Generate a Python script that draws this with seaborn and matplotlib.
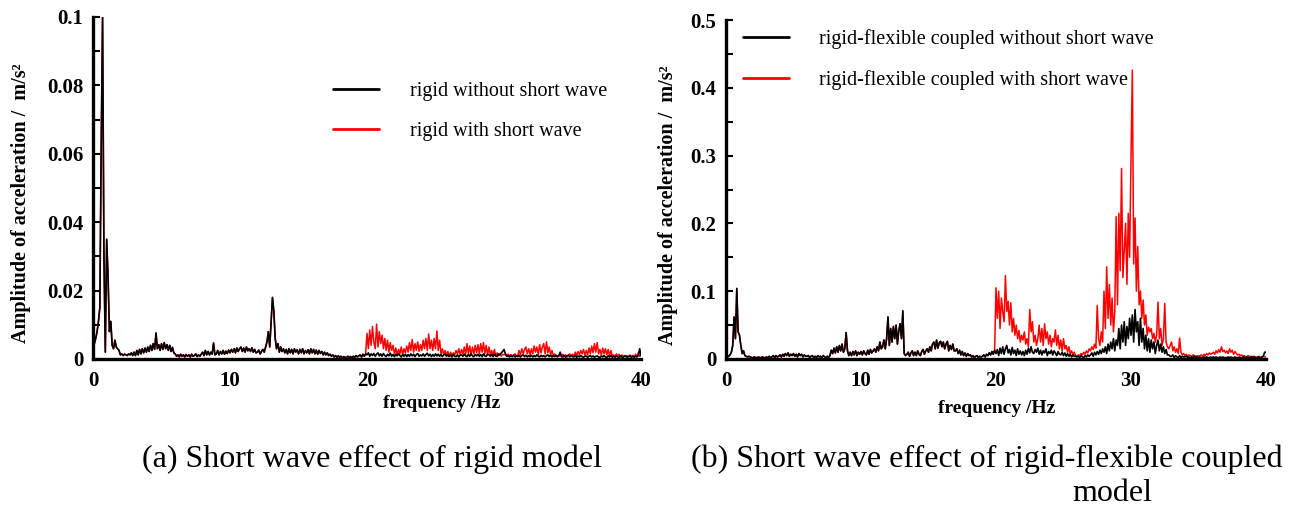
import numpy as np
import pandas as pd
import seaborn as sns
import matplotlib.pyplot as plt
from matplotlib.lines import Line2D
from matplotlib.ticker import MultipleLocator

# frequency grid of the spectra (Hz), 0.1 Hz step
freq = np.round(np.arange(0, 40.05, 0.1), 1)

# (a) rigid model, amplitudes in 1e-4 m/s^2
# 0 - 19.9 Hz: both curves practically coincide
a_base = [
    30, 45, 60, 80, 110, 150, 620, 1000, 300, 20,
    350, 240, 80, 110, 40, 30, 55, 35, 30, 25,
    12, 15, 10, 14, 12, 10, 15, 12, 18, 10,
    20, 10, 25, 12, 28, 15, 30, 18, 32, 20,
    35, 22, 40, 25, 45, 28, 76, 30, 42, 25,
    45, 28, 48, 30, 42, 25, 40, 22, 34, 18,
    15, 8, 12, 6, 14, 8, 12, 6, 13, 8,
    12, 6, 14, 8, 10, 15, 7, 12, 8, 14,
    20, 10, 25, 12, 22, 12, 20, 14, 47, 12,
    15, 25, 12, 22, 15, 25, 14, 23, 16, 26,
    18, 28, 20, 30, 18, 32, 22, 30, 35, 22,
    32, 20, 35, 24, 30, 22, 33, 20, 28, 18,
    20, 26, 15, 22, 28, 20, 35, 50, 80, 35,
    110, 180, 140, 60, 30, 45, 20, 35, 22, 30,
    18, 28, 15, 30, 18, 28, 15, 30, 20, 27,
    15, 28, 18, 30, 15, 25, 18, 27, 15, 30,
    18, 28, 15, 26, 14, 25, 16, 22, 12, 20,
    12, 18, 10, 14, 8, 12, 6, 10, 5, 9,
    5, 8, 4, 7, 5, 4, 8, 5, 7, 4,
    8, 5, 10, 6, 9, 12, 6, 14, 8, 15,
]
# 20 - 40 Hz
a_black_hi = [
    12, 18, 8, 15, 10, 16, 8, 14, 18, 9,
    15, 8, 16, 10, 7, 14, 9, 17, 8, 13,
    7, 14, 9, 15, 10, 6, 13, 8, 14, 7,
    13, 8, 15, 9, 14, 7, 13, 16, 8, 12,
    9, 15, 8, 13, 17, 9, 14, 7, 13, 8,
    15, 9, 14, 8, 13, 7, 12, 14, 8, 12,
    7, 12, 6, 13, 8, 7, 12, 6, 11, 12,
    8, 14, 9, 7, 13, 8, 15, 9, 7, 13,
    9, 14, 8, 13, 7, 15, 9, 8, 14, 12,
    8, 13, 7, 14, 9, 8, 15, 12, 18, 22,
    28, 15, 8, 10, 6, 9, 7, 11, 6, 10,
    7, 11, 6, 10, 12, 7, 11, 6, 10, 7,
    11, 6, 10, 7, 12, 8, 6, 11, 7, 10,
    6, 10, 12, 7, 11, 6, 10, 7, 11, 6,
    10, 20, 7, 6, 10, 5, 9, 11, 6, 10,
    7, 6, 10, 5, 9, 6, 10, 7, 5, 8,
    9, 5, 8, 10, 6, 9, 5, 8, 9, 6,
    5, 9, 6, 10, 6, 5, 9, 6, 10, 5,
    8, 5, 9, 6, 5, 9, 6, 5, 8, 9,
    5, 8, 9, 5, 8, 5, 9, 6, 10, 30,
    10,
]
a_red_hi = [
    75, 30, 85, 40, 95, 50, 30, 102, 35, 80,
    45, 70, 30, 60, 25, 55, 20, 48, 25, 40,
    15, 32, 12, 28, 15, 35, 12, 30, 18, 38,
    20, 48, 25, 57, 20, 45, 25, 50, 22, 42,
    25, 55, 30, 60, 25, 73, 30, 55, 25, 60,
    30, 82, 25, 55, 15, 30, 12, 25, 10, 22,
    8, 20, 10, 18, 12, 25, 15, 30, 12, 28,
    15, 35, 12, 45, 15, 38, 12, 35, 15, 40,
    18, 42, 15, 45, 20, 48, 15, 40, 12, 35,
    12, 25, 10, 28, 8, 18, 10, 15, 8, 14,
    12, 15, 8, 14, 9, 13, 8, 12, 15, 8,
    10, 25, 12, 30, 15, 28, 35, 15, 30, 12,
    30, 15, 38, 20, 35, 12, 42, 18, 35, 45,
    15, 50, 18, 35, 12, 25, 10, 15, 8, 10,
    8, 12, 6, 14, 8, 12, 6, 11, 15, 8,
    14, 8, 20, 10, 22, 12, 25, 15, 28, 12,
    25, 12, 32, 15, 38, 18, 45, 20, 48, 15,
    28, 12, 32, 15, 30, 12, 28, 10, 25, 8,
    12, 6, 15, 8, 14, 6, 12, 8, 10, 6,
    9, 5, 12, 6, 11, 5, 14, 6, 18, 8,
    12,
]

# (b) rigid-flexible coupled model, amplitudes in 1e-3 m/s^2
b_base = [
    2, 3, 4, 6, 10, 20, 62, 30, 104, 40,
    35, 20, 8, 12, 5, 4, 3, 4, 3, 2,
    2, 3, 2, 2, 3, 2, 2, 3, 2, 2,
    3, 2, 4, 2, 3, 5, 2, 5, 3, 4,
    6, 3, 7, 4, 8, 5, 9, 4, 7, 5,
    8, 4, 7, 3, 8, 5, 7, 3, 6, 4,
    4, 5, 2, 4, 5, 2, 4, 2, 5, 3,
    4, 2, 5, 3, 2, 4, 2, 5, 13, 8,
    16, 9, 18, 10, 20, 12, 22, 10, 15, 39,
    12, 5, 10, 5, 11, 6, 12, 5, 10, 7,
    11, 6, 12, 8, 6, 13, 7, 14, 9, 12,
    15, 10, 18, 12, 25, 15, 18, 28, 15, 30,
    62, 20, 45, 25, 48, 30, 50, 22, 42, 52,
    30, 71, 8, 5, 7, 10, 4, 9, 12, 5,
    10, 5, 12, 7, 5, 11, 14, 7, 12, 15,
    10, 18, 12, 22, 25, 15, 28, 16, 24, 26,
    18, 25, 15, 22, 26, 12, 20, 14, 22, 12,
    12, 15, 8, 13, 6, 11, 5, 9, 4, 8,
    5, 6, 3, 5, 2, 4, 5, 2, 4, 3,
    4, 6, 3, 7, 5, 9, 6, 11, 7, 13,
]
b_black_hi = [
    8, 14, 5, 16, 8, 18, 7, 15, 20, 9,
    14, 6, 17, 8, 13, 5, 15, 7, 12, 6,
    11, 5, 13, 7, 16, 9, 18, 10, 8, 14,
    10, 16, 7, 13, 6, 12, 9, 15, 5, 11,
    8, 13, 6, 12, 9, 5, 11, 7, 6, 10,
    5, 9, 4, 8, 4, 7, 3, 6, 4, 4,
    3, 4, 2, 5, 3, 2, 5, 3, 6, 4,
    6, 9, 4, 10, 6, 11, 7, 13, 8, 15,
    10, 18, 8, 22, 12, 25, 15, 30, 12, 28,
    20, 45, 15, 50, 25, 55, 20, 48, 30, 60,
    35, 65, 25, 73, 40, 55, 20, 60, 25, 45,
    15, 35, 12, 30, 10, 28, 15, 25, 8, 20,
    28, 12, 22, 10, 18, 8, 14, 6, 6, 4,
    4, 6, 2, 5, 3, 2, 5, 2, 4, 3,
    3, 4, 2, 3, 2, 3, 2, 4, 2, 3,
    2, 3, 2, 2, 3, 2, 3, 2, 2, 3,
    2, 3, 2, 3, 2, 2, 3, 2, 3, 2,
    2, 2, 3, 2, 3, 2, 2, 3, 2, 2,
    3, 2, 2, 3, 2, 2, 3, 2, 2, 3,
    2, 3, 2, 2, 3, 2, 2, 3, 4, 10,
    10,
]
b_red_hi = [
    105, 60, 100, 45, 90, 70, 55, 123, 70, 85,
    50, 83, 40, 60, 35, 50, 30, 42, 25, 35,
    28, 40, 22, 30, 18, 73, 40, 55, 25, 35,
    20, 30, 50, 25, 45, 20, 52, 30, 40, 22,
    35, 18, 30, 25, 43, 20, 35, 15, 28, 12,
    30, 15, 20, 10, 18, 8, 12, 6, 10, 5,
    4, 6, 5, 8, 6, 10, 7, 12, 9, 15,
    12, 18, 14, 22, 16, 79, 30, 20, 40, 25,
    100, 45, 136, 60, 110, 50, 90, 40, 70, 210,
    80, 215, 130, 281, 120, 160, 200, 110, 215, 150,
    295, 426, 140, 208, 100, 166, 80, 100, 60, 87,
    50, 65, 35, 47, 40, 45, 30, 38, 25, 35,
    84, 30, 45, 20, 30, 82, 25, 18, 15, 20,
    25, 12, 18, 10, 15, 8, 31, 10, 6, 8,
    5, 7, 4, 6, 5, 4, 6, 5, 4, 5,
    4, 5, 6, 4, 7, 5, 8, 6, 9, 7,
    8, 10, 7, 12, 9, 14, 10, 18, 11, 13,
    9, 12, 8, 15, 10, 13, 7, 11, 8, 6,
    7, 5, 6, 4, 5, 3, 4, 5, 3, 4,
    3, 4, 3, 2, 3, 4, 2, 3, 4, 3,
    3,
]

a_labels = ["rigid without short wave", "rigid with short wave"]
b_labels = ["rigid-flexible coupled without short wave",
            "rigid-flexible coupled with short wave"]
a_yticks = [0, 0.02, 0.04, 0.06, 0.08, 0.1]
a_yticklabels = ["0", "0.02", "0.04", "0.06", "0.08", "0.1"]
b_yticks = [0, 0.1, 0.2, 0.3, 0.4, 0.5]
b_yticklabels = ["0", "0.1", "0.2", "0.3", "0.4", "0.5"]
xticks = [0, 10, 20, 30, 40]

df_a = pd.DataFrame({
    "freq": freq,
    "black": np.array(a_base + a_black_hi) * 1e-4,
    "red": np.array(a_base + a_red_hi) * 1e-4,
})
df_b = pd.DataFrame({
    "freq": freq,
    "black": np.array(b_base + b_black_hi) * 1e-3,
    "red": np.array(b_base + b_red_hi) * 1e-3,
})

sns.set_theme(style="ticks")
plt.rcParams['font.family'] = ['Liberation Serif', 'DejaVu Serif']
plt.rcParams['text.color'] = 'black'
plt.rcParams['axes.labelcolor'] = 'black'
plt.rcParams['xtick.color'] = 'black'
plt.rcParams['ytick.color'] = 'black'

fig = plt.figure(figsize=(12.95, 5.09), dpi=100)
ax_a = fig.add_axes([0.0718, 0.2947, 0.4232, 0.672])
ax_b = fig.add_axes([0.5606, 0.2947, 0.417, 0.666])

panels = [
    (ax_a, df_a, 0.1, a_yticks, a_yticklabels, 0.01, a_labels,
     (0.438, 0.81), (0.637, -0.105), (-0.113, 0.456)),
    (ax_b, df_b, 0.5, b_yticks, b_yticklabels, 0.05, b_labels,
     (0.031, 0.972), (0.502, -0.121), (-0.089, 0.454)),
]

for ax, df, ymax, yt, ytl, minor, labels, leg_pos, xl_pos, yl_pos in panels:
    sns.lineplot(data=df, x="freq", y="red", color="#ff0000", lw=1.1, ax=ax)
    sns.lineplot(data=df, x="freq", y="black", color="black", lw=1.2, ax=ax)
    ax.set_xlim(0, 40)
    ax.set_ylim(0, ymax)
    ax.set_xticks(xticks)
    ax.set_xticklabels([str(t) for t in xticks])
    ax.set_yticks(yt)
    ax.set_yticklabels(ytl)
    ax.yaxis.set_minor_locator(MultipleLocator(minor))
    sns.despine(ax=ax)
    for side in ["left", "bottom"]:
        ax.spines[side].set_linewidth(2.4)
        ax.spines[side].set_color("black")
    ax.tick_params(axis="y", which="both", direction="in", length=5,
                   width=1.5, color="black", pad=7)
    ax.tick_params(axis="x", length=0, pad=9)
    for lab in ax.get_xticklabels() + ax.get_yticklabels():
        lab.set_fontweight("bold")
        lab.set_fontsize(15)
        lab.set_color("black")
    ax.set_xlabel("frequency /Hz", fontsize=14, fontweight="bold")
    ax.set_ylabel("Amplitude of acceleration /  m/s\u00b2", fontsize=14.5,
                  fontweight="bold")
    ax.xaxis.set_label_coords(*xl_pos)
    ax.yaxis.set_label_coords(*yl_pos)
    handles = [Line2D([], [], color="black", lw=2),
               Line2D([], [], color="#ff0000", lw=2)]
    ax.legend(handles, labels, loc="upper left", bbox_to_anchor=leg_pos,
              frameon=False, fontsize=14.5, handlelength=2.3,
              handletextpad=1.5, labelspacing=1.05, borderpad=0,
              borderaxespad=0)

fig.text(0.287, 0.097, "(a) Short wave effect of rigid model", fontsize=23,
         ha="center", va="center")
fig.text(0.762, 0.097, "(b) Short wave effect of rigid-flexible coupled",
         fontsize=23, ha="center", va="center")
fig.text(0.859, 0.03, "model", fontsize=23, ha="center", va="center")

fig.savefig("out.png", dpi=100)
